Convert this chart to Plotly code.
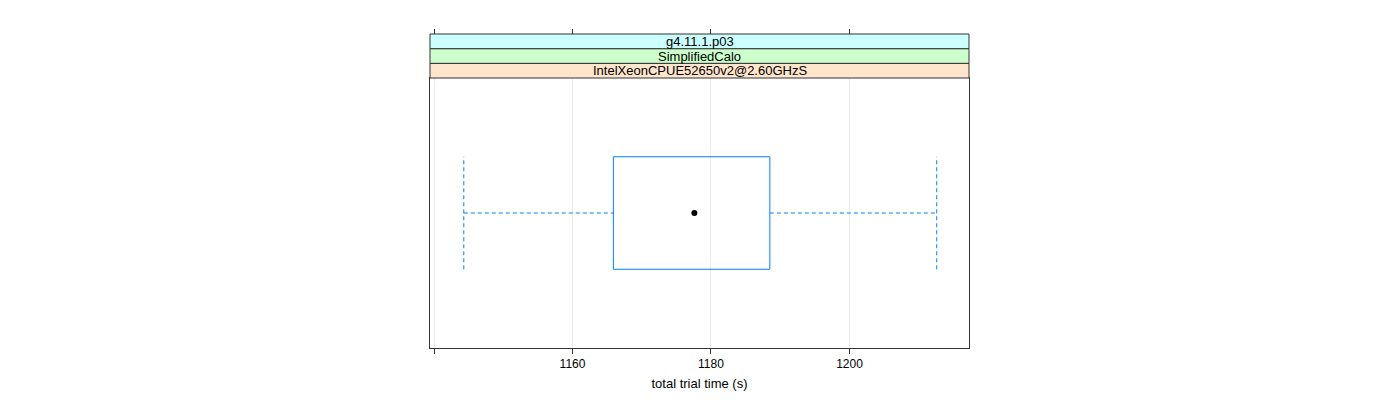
import plotly.graph_objects as go

# Data
strip_labels = ["IntelXeonCPUE52650v2@2.60GHzS", "SimplifiedCalo", "g4.11.1.p03"]  # bottom -> top
strip_colors = ["#ffe5cc", "#ccffcc", "#ccffff"]
whisker_low = 1144.3
q1 = 1165.9
median = 1177.6
q3 = 1188.5
whisker_high = 1212.6
tick_vals = [1140, 1160, 1180, 1200]
tick_text = ["", "1160", "1180", "1200"]
x_range = [1139.42, 1217.26]
x_title = "total trial time (s)"

BLUE = "#0080ff"
FONT = "Liberation Sans, Arial, sans-serif"

W, H = 1400, 400
ml, mr, mt, mb = 430, 431, 34, 52
plot_h = 348 - 78
paper_h = H - mt - mb
ydom_top = plot_h / paper_h

yc = 1.0
hw = 0.25

fig = go.Figure()

# whisker lines (dashed)
fig.add_trace(go.Scatter(x=[whisker_low, q1], y=[yc, yc], mode="lines",
                         line=dict(color=BLUE, width=1, dash="4px,3px"), hoverinfo="skip"))
fig.add_trace(go.Scatter(x=[q3, whisker_high], y=[yc, yc], mode="lines",
                         line=dict(color=BLUE, width=1, dash="4px,3px"), hoverinfo="skip"))
fig.add_trace(go.Scatter(x=[whisker_low, whisker_low], y=[yc - hw, yc + hw], mode="lines",
                         line=dict(color=BLUE, width=1, dash="4px,3px"), hoverinfo="skip"))
fig.add_trace(go.Scatter(x=[whisker_high, whisker_high], y=[yc - hw, yc + hw], mode="lines",
                         line=dict(color=BLUE, width=1, dash="4px,3px"), hoverinfo="skip"))
# box
fig.add_trace(go.Scatter(x=[q1, q3, q3, q1, q1], y=[yc - hw, yc - hw, yc + hw, yc + hw, yc - hw],
                         mode="lines", line=dict(color=BLUE, width=1), hoverinfo="skip"))
# median dot
fig.add_trace(go.Scatter(x=[median], y=[yc], mode="markers",
                         marker=dict(color="black", size=6), hoverinfo="skip"))
# invisible trace for top axis
fig.add_trace(go.Scatter(x=[median], y=[yc], mode="markers", xaxis="x2",
                         marker=dict(opacity=0), hoverinfo="skip"))

# strips
n = len(strip_labels)
sh = (1 - ydom_top) / n
for i, (lab, col) in enumerate(zip(strip_labels, strip_colors)):
    y0 = ydom_top + i * sh
    y1 = y0 + sh
    fig.add_shape(type="rect", xref="paper", yref="paper", x0=0, x1=1, y0=y0, y1=y1,
                  fillcolor=col, line=dict(color="#333333", width=1), layer="above")
    fig.add_annotation(xref="paper", yref="paper", x=0.5, y=(y0 + y1) / 2, text=lab,
                       showarrow=False, font=dict(family=FONT, size=13, color="black"),
                       xanchor="center", yanchor="middle")

fig.update_layout(
    width=W, height=H,
    margin=dict(l=ml, r=mr, t=mt, b=mb, pad=0),
    plot_bgcolor="white", paper_bgcolor="white",
    showlegend=False,
    font=dict(family=FONT, size=12, color="black"),
    xaxis=dict(range=x_range, tickmode="array", tickvals=tick_vals, ticktext=tick_text,
               ticks="outside", ticklen=5, tickcolor="#333333", tickwidth=1,
               showgrid=True, gridcolor="#ebebeb", gridwidth=1, zeroline=False,
               showline=True, linecolor="#333333", linewidth=1, mirror=True,
               tickfont=dict(family=FONT, size=12, color="black"),
               title=dict(text=x_title, font=dict(family=FONT, size=13, color="black"), standoff=8)),
    xaxis2=dict(range=x_range, overlaying="x", side="top", anchor="free", position=1,
                tickmode="array", tickvals=tick_vals, showticklabels=False,
                ticks="outside", ticklen=5, tickcolor="#333333", tickwidth=1,
                showgrid=False, zeroline=False, showline=False),
    yaxis=dict(range=[0.4, 1.6], domain=[0, ydom_top], showticklabels=False, ticks="",
               showgrid=False, zeroline=False, showline=True, linecolor="#333333",
               linewidth=1, mirror=True),
)

fig.write_html("out.html")
